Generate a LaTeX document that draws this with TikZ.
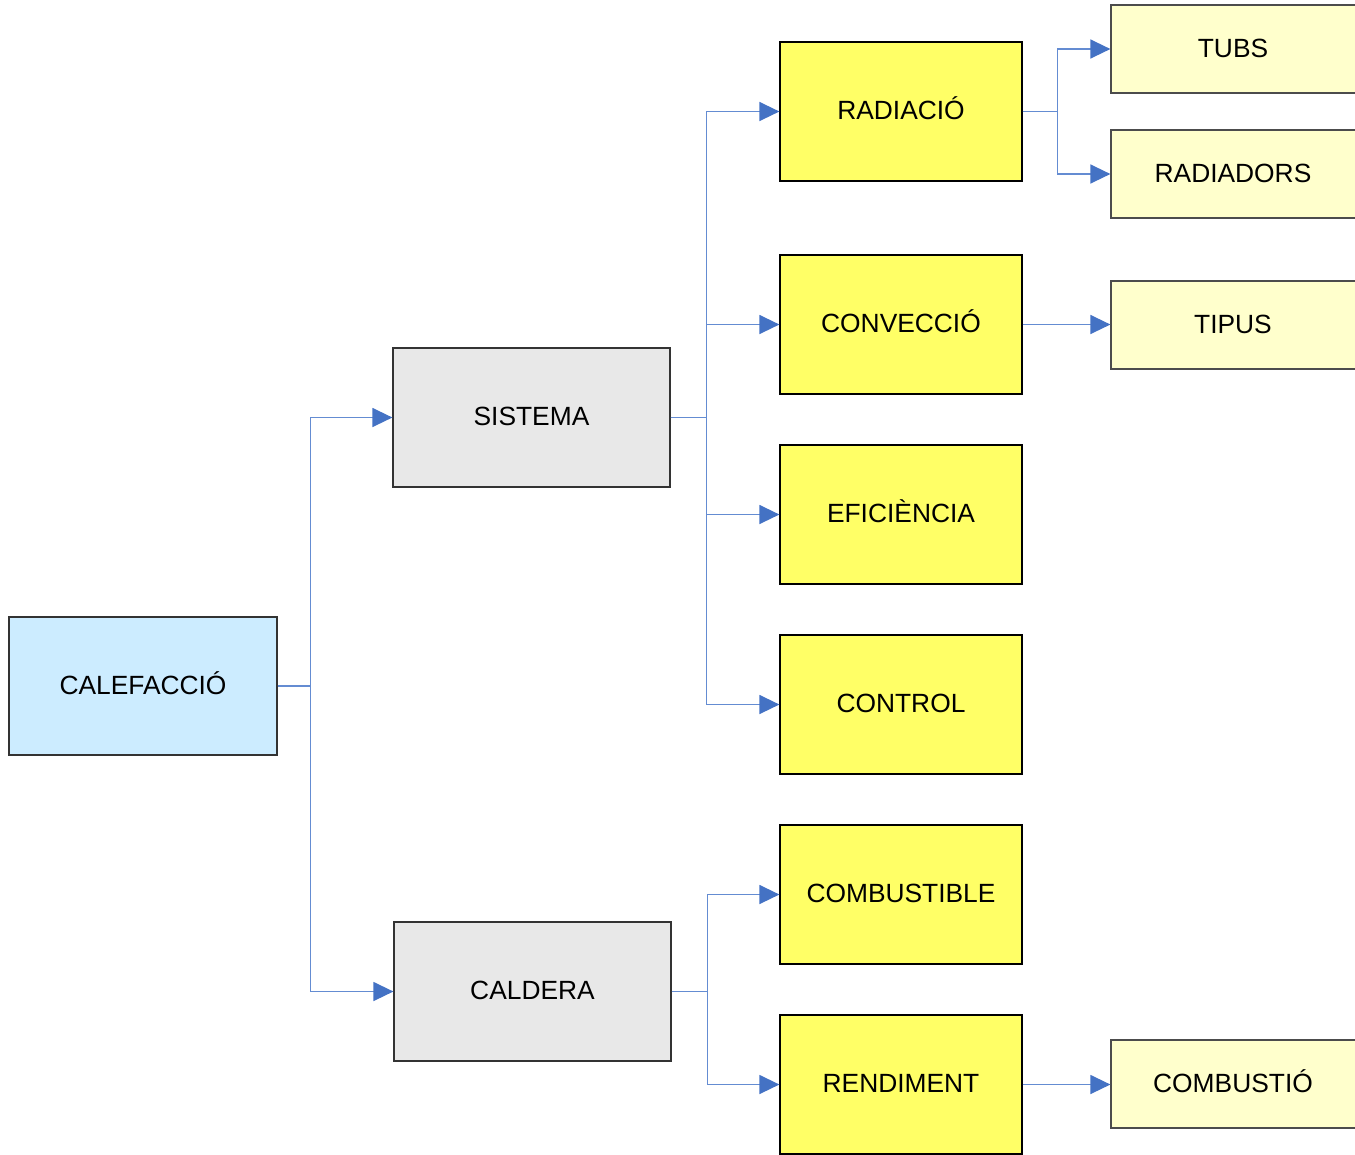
\documentclass[tikz,border=0pt]{standalone}
\usepackage{fontspec}
\setmainfont{Liberation Sans}
\usepackage{tikz}
\usetikzlibrary{arrows.meta,positioning}
\usepackage{xcolor}
\definecolor{cfblue}{RGB}{204,236,255}
\definecolor{cfgray}{RGB}{232,232,232}
\definecolor{cfyellow}{RGB}{255,255,102}
\definecolor{cflightyellow}{RGB}{255,255,204}
\definecolor{cfline}{RGB}{100,140,210}
\definecolor{cfarrow}{RGB}{68,114,196}
\tikzstyle{box} = [draw=black!80, line width=0.7pt, align=center, inner sep=0pt, text height=1.1em, text depth=0.18em, font=\fontsize{15}{18}\selectfont]
\tikzstyle{rootbox} = [box, fill=cfblue, minimum width=5.36cm, minimum height=2.76cm]
\tikzstyle{midbox} = [box, fill=cfgray, minimum width=5.54cm, minimum height=2.78cm]
\tikzstyle{subbox} = [box, draw=black, fill=cfyellow, minimum width=4.84cm, minimum height=2.78cm]
\tikzstyle{leafbox} = [box, draw=black!70, fill=cflightyellow, minimum width=5.0cm, minimum height=1.76cm]
\tikzstyle{link} = [cfline, line width=0.8pt, -{Triangle[length=0.4cm,width=0.38cm,fill=cfarrow,color=cfarrow]}]

\begin{document}
\begin{tikzpicture}
\useasboundingbox (0,0) rectangle (27.1,-23.08);
\clip (0,0) rectangle (27.1,-23.08);

% Root
\node[rootbox] (cal) at (2.86,-13.72) {CALEFACCIÓ};

% Second level
\node[midbox] (sis) at (10.63,-8.35) {SISTEMA};
\node[midbox] (cald) at (10.65,-19.83) {CALDERA};

% Third level
\node[subbox] (rad) at (18.02,-2.23) {RADIACIÓ};
\node[subbox] (conv) at (18.02,-6.49) {CONVECCIÓ};
\node[subbox] (efi) at (18.02,-10.29) {EFICIÈNCIA};
\node[subbox] (ctrl) at (18.02,-14.09) {CONTROL};
\node[subbox] (comb) at (18.02,-17.89) {COMBUSTIBLE};
\node[subbox] (rend) at (18.02,-21.69) {RENDIMENT};

% Leaves (cut by the right edge)
\node[leafbox] (tubs) at (24.72,-0.98) {\hspace*{-0.12cm}TUBS};
\node[leafbox] (radr) at (24.72,-3.48) {\hspace*{-0.12cm}RADIADORS};
\node[leafbox] (tip) at (24.72,-6.50) {\hspace*{-0.12cm}TIPUS};
\node[leafbox] (combt) at (24.72,-21.68) {\hspace*{-0.12cm}COMBUSTIÓ};

% Connectors
\draw[link] (cal.east) -- ++(0.66,0) |- (sis.west);
\draw[link] (cal.east) -- ++(0.66,0) |- (cald.west);
\foreach \t in {rad,conv,efi,ctrl}
  \draw[link] (sis.east) -- ++(0.72,0) |- (\t.west);
\foreach \t in {comb,rend}
  \draw[link] (cald.east) -- ++(0.72,0) |- (\t.west);
\draw[link] (rad.east) -- ++(0.70,0) |- (tubs.west);
\draw[link] (rad.east) -- ++(0.70,0) |- (radr.west);
\draw[link] (conv.east) -- (conv.east -| tip.west);
\draw[link] (rend.east) -- (rend.east -| combt.west);
\end{tikzpicture}
\end{document}
